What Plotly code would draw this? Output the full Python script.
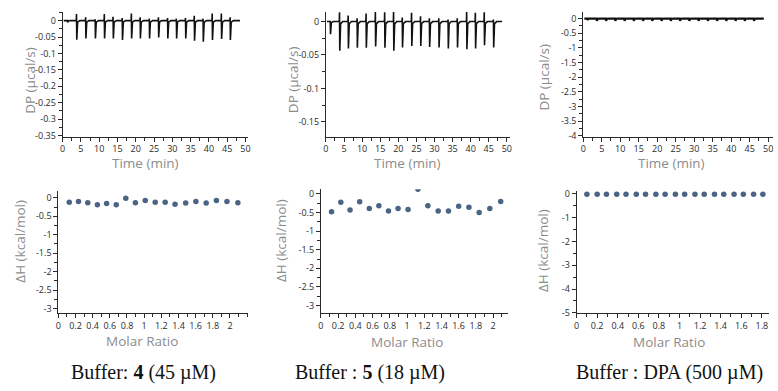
import plotly.graph_objects as go

W, H = 778, 391

# ---------------- data ----------------
# Top-left thermogram (Buffer : 4)
tl_inj_time = [1.3, 3.8, 6.3, 8.9, 11.4, 13.8, 16.3, 18.8, 21.2, 23.7, 26.2, 28.7, 31.1, 33.6, 36.0, 38.4, 40.9, 43.4, 45.8]
tl_peak_down = [-0.005, -0.058, -0.054, -0.054, -0.054, -0.054, -0.059, -0.054, -0.054, -0.054, -0.051, -0.054, -0.054, -0.054, -0.061, -0.064, -0.059, -0.056, -0.059]
tl_peak_up = [0.0, 0.020, 0.010, 0.004, 0.020, 0.012, 0.008, 0.022, 0.010, 0.006, 0.010, 0.008, 0.006, 0.008, 0.015, 0.006, 0.022, 0.022, 0.010]
tl_end = 48.5

# Top-middle thermogram (Buffer : 5)
tm_inj_time = [1.2, 3.76, 6.15, 8.62, 11.1, 13.67, 16.24, 18.7, 21.1, 23.67, 26.15, 28.6, 31.2, 33.76, 36.3, 38.9, 41.3, 43.76, 46.3]
tm_peak_down = [-0.019, -0.0437, -0.0403, -0.0393, -0.0393, -0.0374, -0.0393, -0.0437, -0.0388, -0.0364, -0.0364, -0.0379, -0.0388, -0.0403, -0.0388, -0.0413, -0.0403, -0.0354, -0.0388]
tm_peak_up = [0.0, 0.014, 0.009, 0.005, 0.012, 0.0146, 0.014, 0.0146, 0.006, 0.013, 0.008, 0.005, 0.005, 0.003, 0.005, 0.0146, 0.013, 0.014, 0.003]
tm_end = 48.7

# Top-right thermogram (Buffer : DPA)
tr_inj_time = [1.1, 3.6, 6.1, 8.6, 11.1, 13.6, 16.1, 18.6, 21.1, 23.6, 26.1, 28.6, 31.1, 33.6, 36.1, 38.6, 41.1, 43.6, 46.1]
tr_peak_down = [-0.05, -0.08, -0.08, -0.08, -0.08, -0.08, -0.08, -0.08, -0.08, -0.08, -0.08, -0.08, -0.08, -0.08, -0.08, -0.08, -0.08, -0.08, -0.08]
tr_peak_up = [0.0] * 19
tr_end = 48.8

# Integrated heats
bl_ratio = [0.127, 0.235, 0.343, 0.455, 0.563, 0.675, 0.786, 0.898, 1.013, 1.129, 1.245, 1.360, 1.484, 1.603, 1.723, 1.842, 1.965, 2.092]
bl_dh = [-0.115, -0.097, -0.13, -0.185, -0.15, -0.185, -0.01, -0.13, -0.07, -0.115, -0.115, -0.17, -0.14, -0.097, -0.14, -0.07, -0.097, -0.13]

bm_ratio = [0.123, 0.231, 0.338, 0.450, 0.562, 0.673, 0.785, 0.896, 1.012, 1.127, 1.242, 1.362, 1.481, 1.600, 1.719, 1.838, 1.962, 2.088]
bm_dh = [-0.48, -0.22, -0.43, -0.21, -0.39, -0.32, -0.46, -0.39, -0.42, 0.13, -0.32, -0.46, -0.46, -0.33, -0.36, -0.50, -0.39, -0.20]

br_ratio = [0.10, 0.20, 0.29, 0.39, 0.48, 0.58, 0.67, 0.77, 0.86, 0.96, 1.05, 1.15, 1.24, 1.34, 1.43, 1.53, 1.62, 1.72, 1.81]
br_dh = [-0.01] * 19

captions = ["Buffer: <b>4</b> (45 µM)", "Buffer : <b>5</b> (18 µM)", "Buffer : DPA (500 µM)"]

# ---------------- helpers ----------------
def fx(px):
    return px / W

def fy(py):
    return 1 - py / H

def thermogram(times, downs, ups, end):
    t, d = [0.3], [0.0]
    for ti, dn, up in zip(times, downs, ups):
        t += [ti - 0.06, ti, ti + 0.07, ti + 0.3, ti + 0.9]
        d += [0.0, up, dn, dn * 0.08, 0.0]
    t.append(end)
    d.append(0.0)
    return t, d

def fmt(v):
    return "%g" % round(v, 4)

TICKC = "#2b2b2b"
TITLEC = "#8c8c8c"
FONT = "Open Sans"

def axis(domain, rng, vals, minor_dtick, anchor):
    return dict(
        domain=domain, range=rng, anchor=anchor,
        showline=True, linecolor=TICKC, linewidth=1,
        showgrid=False, zeroline=False,
        ticks="outside", ticklen=4, tickwidth=1, tickcolor=TICKC,
        tickmode="array", tickvals=vals, ticktext=[fmt(v) for v in vals],
        tickfont=dict(size=9, color=TICKC, family=FONT),
        minor=dict(ticks="outside", ticklen=3, tickwidth=1, tickcolor=TICKC,
                   tickmode="linear", tick0=0, dtick=minor_dtick, showgrid=False),
        fixedrange=True,
    )

fig = go.Figure()

# thermograms
for i, (tms, dn, up, end, lw) in enumerate([
        (tl_inj_time, tl_peak_down, tl_peak_up, tl_end, 1.6),
        (tm_inj_time, tm_peak_down, tm_peak_up, tm_end, 1.6),
        (tr_inj_time, tr_peak_down, tr_peak_up, tr_end, 2.2)]):
    t, d = thermogram(tms, dn, up, end)
    k = "" if i == 0 else str(i + 1)
    fig.add_trace(go.Scatter(x=t, y=d, mode="lines", line=dict(color="#111111", width=lw),
                             xaxis="x" + k, yaxis="y" + k, showlegend=False,
                             hoverinfo="skip"))

# heats
for i, (xr, yr) in enumerate([(bl_ratio, bl_dh), (bm_ratio, bm_dh), (br_ratio, br_dh)]):
    k = str(i + 4)
    fig.add_trace(go.Scatter(x=xr, y=yr, mode="markers",
                             marker=dict(color="#4b6485", size=5.5),
                             xaxis="x" + k, yaxis="y" + k, showlegend=False,
                             hoverinfo="skip"))

time_ticks = [0, 5, 10, 15, 20, 25, 30, 35, 40, 45, 50]
ratio_ticks = [0, 0.2, 0.4, 0.6, 0.8, 1, 1.2, 1.4, 1.6, 1.8, 2]
ratio_ticks6 = [0, 0.2, 0.4, 0.6, 0.8, 1, 1.2, 1.4, 1.6, 1.8]

layout = dict(
    width=W, height=H, margin=dict(l=0, r=0, t=0, b=0),
    paper_bgcolor="white", plot_bgcolor="white", showlegend=False,
    xaxis=axis([fx(60), fx(247)], [0, 50.8], time_ticks, 2.5, "y"),
    yaxis=axis([fy(136), fy(8)], [-0.353, 0.027],
               [0, -0.05, -0.1, -0.15, -0.2, -0.25, -0.3, -0.35], 0.025, "x"),
    xaxis2=axis([fx(325), fx(510)], [0, 50.8], time_ticks, 2.5, "y2"),
    yaxis2=axis([fy(136), fy(8)], [-0.172, 0.0146], [0, -0.05, -0.1, -0.15], 0.025, "x2"),
    xaxis3=axis([fx(584), fx(775)], [0, 51.3], time_ticks, 2.5, "y3"),
    yaxis3=axis([fy(136), fy(8)], [-4.02, 0.23],
                [0, -0.5, -1, -1.5, -2, -2.5, -3, -3.5, -4], 0.25, "x3"),
    xaxis4=axis([fx(55.7), fx(247)], [0, 2.215], ratio_ticks, 0.1, "y4"),
    yaxis4=axis([fy(317), fy(192)], [-3.12, 0.185], [0, -0.5, -1, -1.5, -2, -2.5, -3], 0.25, "x4"),
    xaxis5=axis([fx(320), fx(508)], [0, 2.17], ratio_ticks, 0.1, "y5"),
    yaxis5=axis([fy(317), fy(190)], [-3.2, 0.13], [0, -0.5, -1, -1.5, -2, -2.5, -3], 0.25, "x5"),
    xaxis6=axis([fx(577.3), fx(771)], [0, 1.87], ratio_ticks6, 0.1, "y6"),
    yaxis6=axis([fy(317), fy(192)], [-5.0, 0.12], [0, -1, -2, -3, -4, -5], 0.5, "x6"),
)
fig.update_layout(**layout)

ann = []
def title(text, px, py, angle=0):
    ann.append(dict(text=text, x=fx(px), y=fy(py), xref="paper", yref="paper",
                    showarrow=False, textangle=angle, xanchor="center", yanchor="middle",
                    font=dict(size=13.5, color=TITLEC, family=FONT)))

for px in (143, 407, 673):
    title("Time (min)", px, 163)
title("DP (µcal/s)", 27, 78, -90)
title("DP (µcal/s)", 292, 78, -90)
title("DP (µcal/s)", 545, 75, -90)
title("Molar Ratio", 140, 346)
title("Molar Ratio", 407, 347)
title("Molar Ratio", 670, 347)
title("ΔH (kcal/mol)", 17, 243, -90)
title("ΔH (kcal/mol)", 280, 243, -90)
title("ΔH (kcal/mol)", 543, 253, -90)

for txt, px in zip(captions, (141, 369, 671)):
    ann.append(dict(text=txt, x=fx(px), y=fy(378), xref="paper", yref="paper",
                    showarrow=False, xanchor="center", yanchor="middle",
                    font=dict(size=20, color="#111111", family="Liberation Serif")))

fig.update_layout(annotations=ann)
fig.write_html("out.html", config={"displayModeBar": False},
               post_script="document.body.style.margin='0';document.body.style.overflow='hidden';")
